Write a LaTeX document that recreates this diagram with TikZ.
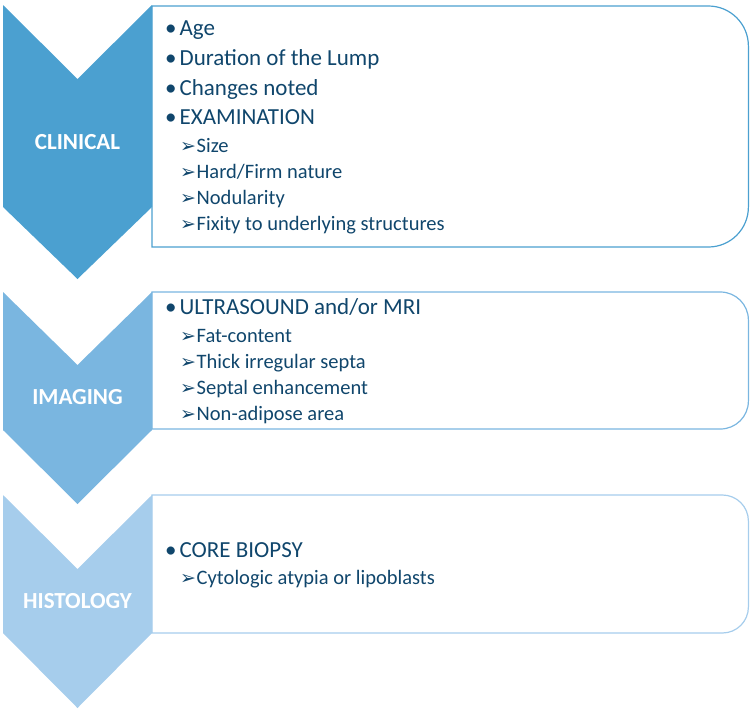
\documentclass[tikz,border=0pt]{standalone}
\usepackage{fontspec}
\setmainfont{Carlito}
\newfontfamily\dingfont{DejaVu Sans}
\definecolor{clinblue}{RGB}{75,160,208}
\definecolor{imgblue}{RGB}{122,182,224}
\definecolor{histblue}{RGB}{166,205,236}
\definecolor{navy}{RGB}{16,70,108}
\newcommand{\pt}{\makebox[16.5pt][l]{\dingfont\fontsize{19}{20}\selectfont ➢}}
\begin{document}
\begin{tikzpicture}[x=1pt,y=-1pt,
    stage/.style={text=white,font=\bfseries\fontsize{23}{26}\selectfont},
    item/.style={anchor=base west,inner sep=0pt,text=navy,font=\fontsize{23}{27}\selectfont},
    sub/.style={anchor=base west,inner sep=0pt,text=navy,font=\fontsize{20.5}{24}\selectfont}]
    \useasboundingbox (0,0) rectangle (750,713);
    % boxes
    \draw[clinblue,line width=1.2] (152,6) [rounded corners=40] -- (748.4,6) -- (748.4,247) [sharp corners] -- (152,247) -- cycle;
    \draw[imgblue,line width=1.2] (152,292) [rounded corners=28] -- (748.4,292) -- (748.4,429) [sharp corners] -- (152,429) -- cycle;
    \draw[histblue,line width=1.2] (152,495) [rounded corners=26] -- (748.4,495) -- (748.4,633) [sharp corners] -- (152,633) -- cycle;
    % chevrons
    \fill[clinblue] (3,5) -- (77.5,79) -- (152,5) -- (152,207) -- (77.5,279) -- (3,207) -- cycle;
    \fill[imgblue] (3,292) -- (77.5,365) -- (152,292) -- (152,430) -- (77.5,504) -- (3,430) -- cycle;
    \fill[histblue] (3,495) -- (77.5,569) -- (152,495) -- (152,633) -- (77.5,708) -- (3,633) -- cycle;
    \node[stage] (clin) at (77.5,142) {CLINICAL};
    \node[stage] (img) at (77.5,397) {IMAGING};
    \node[stage] (hist) at (77.5,601) {HISTOLOGY};
    % clinical
    \node[item] (age) at (165,35) {•\hspace{3pt}Age};
    \node[item] (dur) at (165,65) {•\hspace{3pt}Duration of the Lump};
    \node[item] (chg) at (165,95) {•\hspace{3pt}Changes noted};
    \node[item] (exam) at (165,124) {•\hspace{3pt}EXAMINATION};
    \node[sub] (size) at (180,152) {\pt Size};
    \node[sub] (hard) at (180,178) {\pt Hard/Firm nature};
    \node[sub] (nod) at (180,204) {\pt Nodularity};
    \node[sub] (fix) at (180,230) {\pt Fixity to underlying structures};
    % imaging
    \node[item] (us) at (165,314) {•\hspace{3pt}ULTRASOUND and/or MRI};
    \node[sub] (fat) at (180,342) {\pt Fat-content};
    \node[sub] (sep) at (180,368) {\pt Thick irregular septa};
    \node[sub] (enh) at (180,394) {\pt Septal enhancement};
    \node[sub] (nonad) at (180,420) {\pt Non-adipose area};
    % histology
    \node[item] (core) at (165,557) {•\hspace{3pt}CORE BIOPSY};
    \node[sub] (cyto) at (180,584) {\pt Cytologic atypia or lipoblasts};
\end{tikzpicture}
\end{document}
